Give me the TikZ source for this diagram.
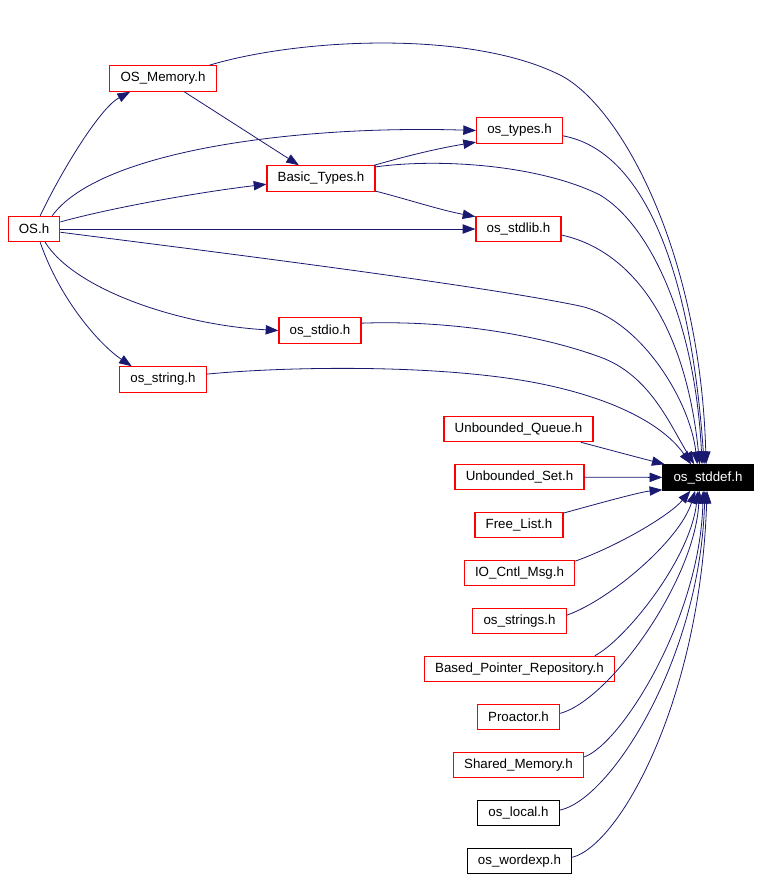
\documentclass[tikz,border=0pt]{standalone}
\usepackage{fontspec}
\setmainfont{Liberation Sans}
\usetikzlibrary{arrows.meta}
\definecolor{edgeblue}{RGB}{25,25,112}

\begin{document}
\begin{tikzpicture}[x=0.75pt,y=-0.75pt,
    file_node/.style={rectangle,draw=red,line width=0.9pt,minimum height=19pt,inner xsep=8pt,inner ysep=0pt,font=\fontsize{10}{12}\selectfont},
    plain_node/.style={file_node,draw=black},
    main_node/.style={file_node,draw=black,fill=black,text=white},
    dep/.style={draw=edgeblue,line width=0.6pt,-{Triangle[length=9.5pt,width=7pt]}}]
    \useasboundingbox (0,0) rectangle (760,879);
    \node[file_node] (os) at (34,229) {OS.h};
    \node[file_node] (osmem) at (163,78.5) {OS\_Memory.h};
    \node[file_node] (basic) at (321,178.5) {Basic\_Types.h};
    \node[file_node] (ostypes) at (519.5,130.5) {os\_types.h};
    \node[file_node] (osstdlib) at (518.5,229) {os\_stdlib.h};
    \node[file_node] (osstdio) at (320,330.5) {os\_stdio.h};
    \node[file_node] (osstring) at (163,379.5) {os\_string.h};
    \node[main_node] (osstddef) at (708,477.5) {os\_stddef.h};
    \node[file_node] (uqueue) at (518.5,429) {Unbounded\_Queue.h};
    \node[file_node] (uset) at (519.5,477) {Unbounded\_Set.h};
    \node[file_node] (freelist) at (519,525) {Free\_List.h};
    \node[file_node] (iocntl) at (519.5,573) {IO\_Cntl\_Msg.h};
    \node[file_node] (osstrings) at (519.5,621) {os\_strings.h};
    \node[file_node] (basedptr) at (519.5,669) {Based\_Pointer\_Repository.h};
    \node[file_node] (proactor) at (518.5,717) {Proactor.h};
    \node[file_node] (sharedmem) at (518.5,765) {Shared\_Memory.h};
    \node[plain_node] (oslocal) at (518.5,813) {os\_local.h};
    \node[plain_node] (oswordexp) at (519.5,861) {os\_wordexp.h};
    % includes of OS.h
    \draw[dep] (os.65) .. controls (62,170) and (100,108) .. (osmem.202);
    \draw[dep] (os.15) .. controls (110,208) and (200,192) .. (basic.186);
    \draw[dep] (os.36) .. controls (100,150) and (300,125) .. (ostypes.west);
    \draw[dep] (os) -- (osstdlib);
    \draw[dep] (os.-7) .. controls (200,250) and (480,285) .. (580,306) .. controls (640,319) and (690,400) .. (osstddef.129);
    \draw[dep] (os.-50) .. controls (75,290) and (180,325) .. (osstdio.west);
    \draw[dep] (os.-65) .. controls (60,300) and (100,345) .. (osstring.157);
    % second level
    \draw[dep] (osmem.-32) -- (basic.149);
    \draw[dep] (osmem.16) .. controls (300,38) and (470,30) .. (560,75) .. controls (620,105) and (700,250) .. (osstddef.98);
    \draw[dep] (basic.14) .. controls (410,155) and (440,148) .. (ostypes.195);
    \draw[dep] (basic.-13) .. controls (410,200) and (440,210) .. (osstdlib.164);
    \draw[dep] (basic.12) .. controls (440,158) and (540,165) .. (600,195) .. controls (650,225) and (695,320) .. (osstddef.114);
    \draw[dep] (ostypes.-7) .. controls (640,150) and (690,260) .. (osstddef.106);
    \draw[dep] (osstdlib.-8) .. controls (630,250) and (685,320) .. (osstddef.122);
    \draw[dep] (osstdio.10) .. controls (450,320) and (540,335) .. (600,357) .. controls (650,375) and (670,425) .. (osstddef.136);
    \draw[dep] (osstring.7) .. controls (280,367) and (420,364) .. (520,380) .. controls (600,393) and (660,420) .. (osstddef.142);
    % other users of os_stddef.h
    \draw[dep] (uqueue.-12) .. controls (610,450) and (640,458) .. (osstddef.163);
    \draw[dep] (uset) -- (osstddef);
    \draw[dep] (freelist.15) .. controls (600,503) and (640,492) .. (osstddef.195);
    \draw[dep] (iocntl.12) .. controls (620,545) and (670,515) .. (osstddef.217);
    \draw[dep] (osstrings.7) .. controls (610,600) and (680,540) .. (osstddef.226);
    \draw[dep] (basedptr.10) .. controls (625,640) and (690,560) .. (osstddef.233);
    \draw[dep] (proactor.5) .. controls (610,700) and (695,580) .. (osstddef.237);
    \draw[dep] (sharedmem.7) .. controls (620,745) and (700,620) .. (osstddef.250);
    \draw[dep] (oslocal.4) .. controls (610,800) and (700,660) .. (osstddef.257);
    \draw[dep] (oswordexp.4) .. controls (620,845) and (700,700) .. (osstddef.266);
\end{tikzpicture}
\end{document}
